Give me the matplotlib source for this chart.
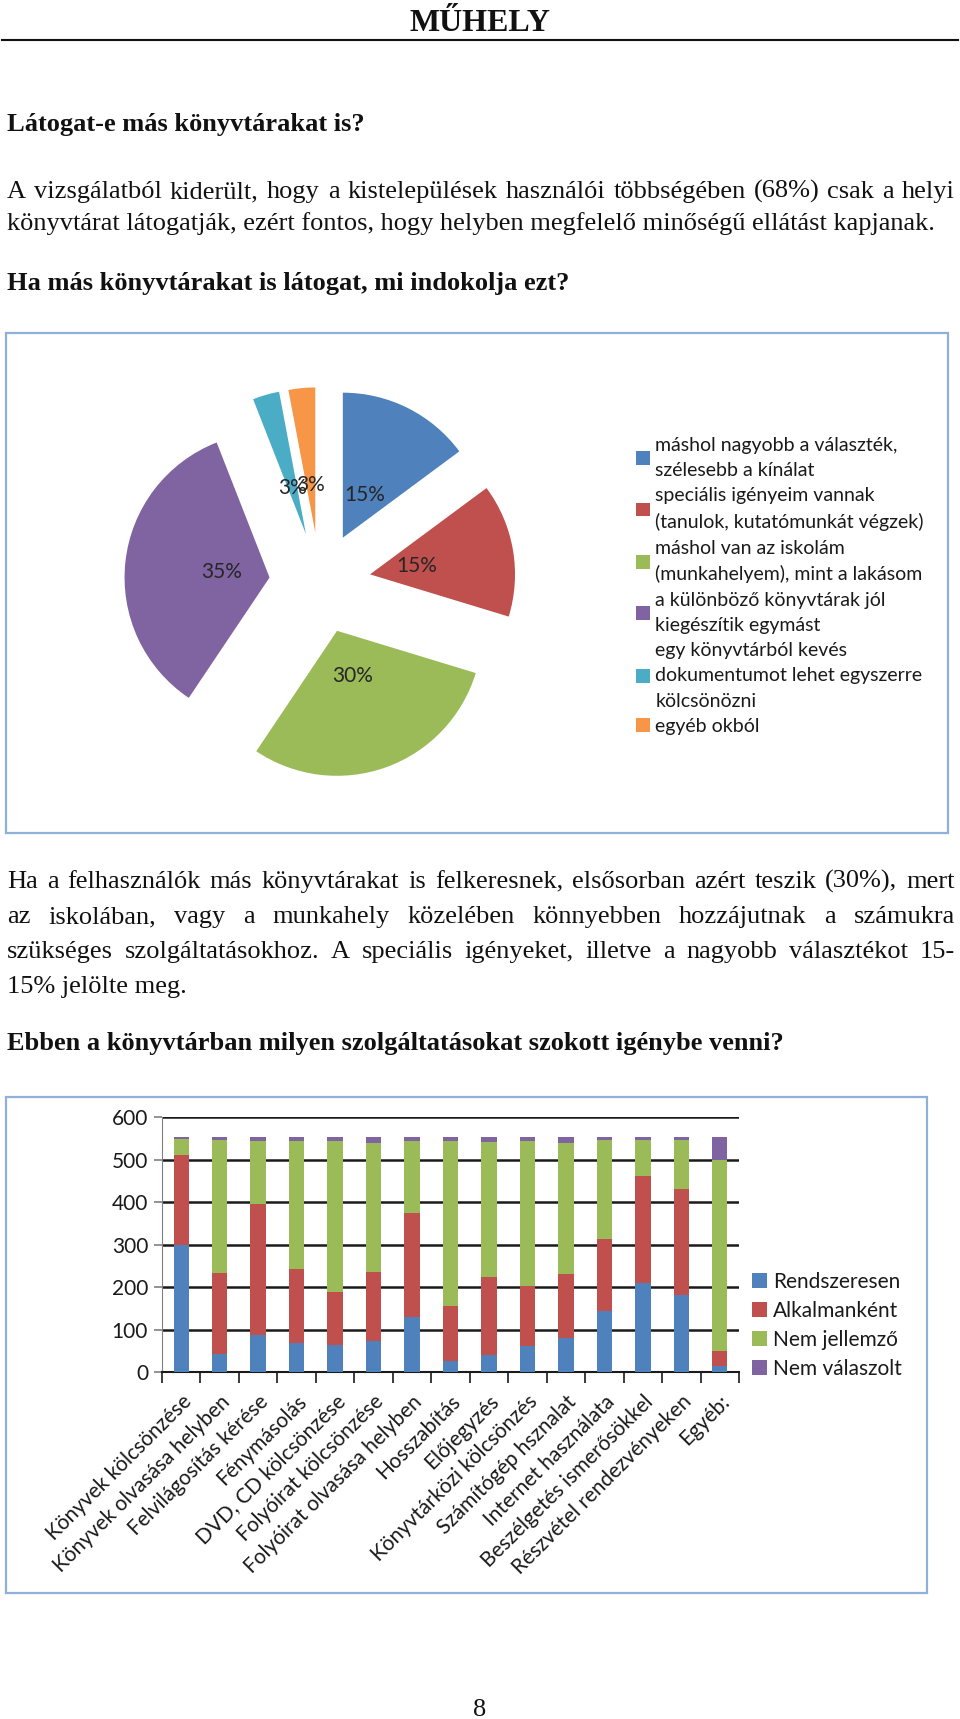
import numpy as np
import matplotlib.pyplot as plt
from matplotlib.patches import Rectangle
from matplotlib.lines import Line2D

W, H = 960, 1719
serif = 'Liberation Serif'
sans = 'Lato'
ink = '#111111'

# pie chart data (percent)
pie_labels = ['máshol nagyobb a választék,\nszélesebb a kínálat',
              'speciális igényeim vannak\n(tanulok, kutatómunkát végzek)',
              'máshol van az iskolám\n(munkahelyem), mint a lakásom',
              'a különböző könyvtárak jól\nkiegészítik egymást',
              'egy könyvtárból kevés\ndokumentumot lehet egyszerre\nkölcsönözni',
              'egyéb okból']
pie_values = [15, 15, 30, 35, 3, 3]
pie_colors = ['#4f81bd', '#c0504d', '#9bbb59', '#8064a2', '#4bacc6', '#f79646']

# stacked bar data
services = ['Könyvek kölcsönzése', 'Könyvek olvasása helyben', 'Felvilágosítás kérése',
            'Fénymásolás', 'DVD, CD kölcsönzése', 'Folyóirat kölcsönzése',
            'Folyóirat olvasása helyben', 'Hosszabítás', 'Előjegyzés',
            'Könyvtárközi kölcsönzés', 'Számítógép hsznalat', 'Internet használata',
            'Beszélgetés ismerősökkel', 'Részvétel rendezvényeken', 'Egyéb:']
rendszeresen = [300, 43, 88, 69, 63, 73, 129, 26, 41, 61, 81, 143, 210, 182, 14]
alkalmankent = [210, 191, 307, 174, 125, 162, 245, 129, 183, 141, 150, 169, 251, 249, 35]
nem_jellemzo = [39, 311, 149, 301, 355, 305, 169, 389, 317, 341, 309, 233, 84, 116, 449]
nem_valaszolt = [4, 8, 9, 9, 10, 13, 10, 9, 12, 10, 13, 8, 8, 6, 55]
series = ['Rendszeresen', 'Alkalmanként', 'Nem jellemző', 'Nem válaszolt']
bar_colors = ['#4f81bd', '#c0504d', '#9bbb59', '#8064a2']

# page text
para1 = ['A vizsgálatból kiderült, hogy a kistelepülések használói többségében (68%) csak a helyi',
         'könyvtárat látogatják, ezért fontos, hogy helyben megfelelő minőségű ellátást kapjanak.']
para2 = ['Ha a felhasználók más könyvtárakat is felkeresnek, elsősorban azért teszik (30%), mert',
         'az iskolában, vagy a munkahely közelében könnyebben hozzájutnak a számukra',
         'szükséges szolgáltatásokhoz. A speciális igényeket, illetve a nagyobb választékot 15-',
         '15% jelölte meg.']

fig = plt.figure(figsize=(W / 100, H / 100), dpi=100)
renderer = fig.canvas.get_renderer()


def fx(x):
    return x / W


def fy(y):
    return 1 - y / H


def text_line(s, y, size=19, weight='normal', justify=False, x0=7, x1=955):
    if not justify:
        fig.text(fx(x0), fy(y), s, fontsize=size, family=serif, weight=weight,
                 va='baseline', color=ink)
        return
    words = s.split()
    items = [fig.text(0, fy(y), w, fontsize=size, family=serif, weight=weight,
                      va='baseline', color=ink) for w in words]
    widths = [t.get_window_extent(renderer).width for t in items]
    gap = max((x1 - x0 - sum(widths)) / (len(words) - 1), 2)
    x = x0
    for t, w in zip(items, widths):
        t.set_x(fx(x))
        x += w + gap


# header
fig.text(0.5, fy(31), 'MŰHELY', fontsize=23, family=serif, weight='bold',
         ha='center', va='baseline', color=ink)
fig.add_artist(Line2D([fx(2), fx(958)], [fy(40), fy(40)], color=ink, lw=1.5))

text_line('Látogat-e más könyvtárakat is?', 131, weight='bold')
text_line(para1[0], 198, justify=True)
text_line(para1[1], 230)
text_line('Ha más könyvtárakat is látogat, mi indokolja ezt?', 290, weight='bold')

# pie chart frame
frame_c = '#8fb1d9'
fig.add_artist(Rectangle((fx(6), fy(833)), (948 - 6) / W, (833 - 333) / H,
                         transform=fig.transFigure, fill=False, ec=frame_c, lw=1.6))

cx, cy, r = 320, 583, 145
ax_pie = fig.add_axes([fx(cx - 2 * r), fy(cy + 2 * r), 4 * r / W, 4 * r / H])
wedges, _, autotexts = ax_pie.pie(pie_values, colors=pie_colors, startangle=90,
                                  counterclock=False, explode=[0.35] * 6,
                                  autopct=lambda p: f'{p:.0f}%', pctdistance=0.33,
                                  textprops={'family': sans, 'fontsize': 15, 'color': '#262626'})
ax_pie.set_xlim(-2, 2)
ax_pie.set_ylim(-2, 2)
ax_pie.set_aspect('equal')
ax_pie.axis('off')

leg = fig.legend(wedges, pie_labels, loc='upper left', bbox_to_anchor=(fx(636), fy(437)),
                 frameon=False, prop={'family': sans, 'size': 14}, handlelength=0.7,
                 handleheight=0.7, handletextpad=0.3, labelspacing=0.43, borderpad=0,
                 borderaxespad=0, labelcolor='#1a1a1a')
for t in leg.get_texts():
    t.set_linespacing(1.58)

for i, line in enumerate(para2):
    text_line(line, 888 + i * 35, justify=i < 3)

text_line('Ebben a könyvtárban milyen szolgáltatásokat szokott igénybe venni?', 1050, weight='bold')

# bar chart frame
fig.add_artist(Rectangle((fx(6), fy(1593)), (927 - 6) / W, (1593 - 1097) / H,
                         transform=fig.transFigure, fill=False, ec=frame_c, lw=1.6))

ax = fig.add_axes([fx(162), fy(1372), (739 - 162) / W, (1372 - 1117) / H])
x = np.arange(len(services))
bottom = np.zeros(len(services))
for vals, name, col in zip([rendszeresen, alkalmankent, nem_jellemzo, nem_valaszolt],
                           series, bar_colors):
    ax.bar(x, vals, width=0.4, bottom=bottom, color=col, label=name, zorder=3)
    bottom += np.array(vals)

ax.set_xlim(-0.5, len(services) - 0.5)
ax.set_ylim(0, 600)
ax.set_yticks(range(0, 601, 100))
ax.yaxis.grid(True, color='#1a1a1a', lw=1.8)
ax.set_axisbelow(True)
for s in ['top', 'right']:
    ax.spines[s].set_visible(False)
ax.spines['left'].set_color('#808080')
ax.spines['bottom'].set_color('#1a1a1a')
ax.spines['bottom'].set_linewidth(1.5)
ax.set_xticks(x)
ax.set_xticklabels(services, rotation=45, ha='right', rotation_mode='anchor',
                   family=sans, fontsize=15, color='#1a1a1a')
ax.set_xticks(np.arange(-0.5, len(services)), minor=True)
ax.tick_params(axis='x', which='major', length=0, pad=14)
ax.tick_params(axis='x', which='minor', length=8, width=1.2, color='#1a1a1a')
ax.tick_params(axis='y', length=6, width=1.2, color='#808080', labelsize=15, pad=4)
for t in ax.get_yticklabels():
    t.set_family(sans)
    t.set_color('#1a1a1a')

ax.legend(loc='upper left', bbox_to_anchor=(fx(752), fy(1272)), bbox_transform=fig.transFigure,
          frameon=False, prop={'family': sans, 'size': 15}, handlelength=0.7, handleheight=0.7,
          handletextpad=0.3, labelspacing=0.43, borderpad=0, borderaxespad=0,
          labelcolor='#1a1a1a')

fig.text(0.5, fy(1716), '8', fontsize=19, family=serif, ha='center', va='baseline', color=ink)

fig.savefig('out.png', dpi=100, facecolor='white')
